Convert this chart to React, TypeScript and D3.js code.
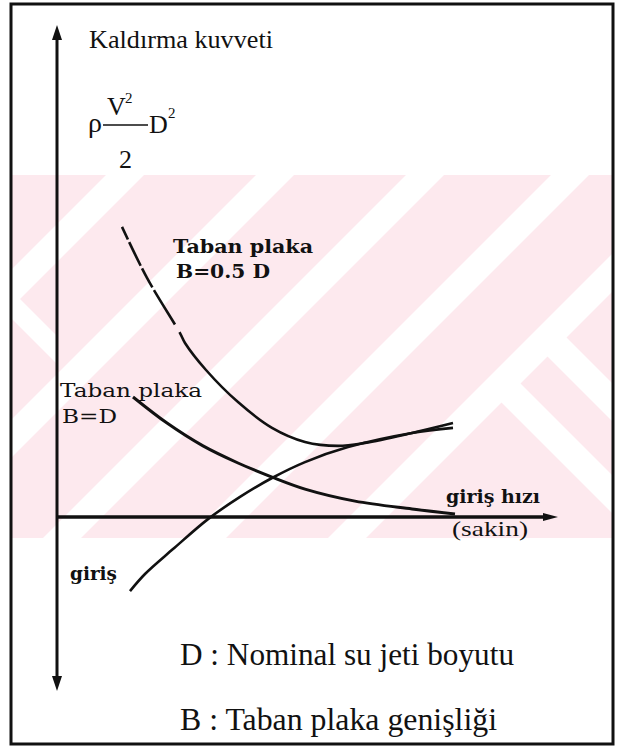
import React from "react";
import * as d3 from "d3";

// Abstract axes: inlet speed (x) vs. lift force (y); 0 on y is the speed axis.
const speedDomain: [number, number] = [0, 100];
const forceDomain: [number, number] = [-60, 100];

// Base plate B = 0.5 D (dashed near the top, then solid)
const halfPlateSpeed = [13, 18, 24.6, 25.6, 29.8, 36.2, 43, 49.6, 56.2, 61.6, 71, 79.2];
const halfPlateForce = [96.7, 79.7, 61.3, 58, 49, 38.3, 29.7, 25, 23.7, 24.7, 28, 31.3];

// Base plate B = D
const fullPlateSpeed = [15.2, 22, 29.2, 36.2, 43, 49.6, 59.6, 71, 79.6];
const fullPlateForce = [40, 31.3, 23.7, 18, 13.3, 9.3, 5.3, 2.7, 1];

// Inlet curve (starts below the speed axis)
const inletSpeed = [14.6, 17.6, 23.2, 30.2, 36.6, 43, 49.6, 58.2, 71, 79.2];
const inletForce = [-24.7, -19, -10.7, -0.7, 6.7, 13, 18.3, 23.3, 28, 29.7];

// Watermark bands: "/" stripes (x + y = c) and "\" stripes (x - y = c)
const slashBands = [300, 450, 600, 745, 885];
const backBands = [118, 210];

const toPoints = (xs: number[], ys: number[]) => xs.map((x, i) => [x, ys[i]] as [number, number]);

export default function App() {
  const W = 617;
  const H = 751;
  const x0 = 57;
  const xAxisY = 517;
  const x = d3.scaleLinear().domain(speedDomain).range([57, 557]);
  const y = d3.scaleLinear().domain(forceDomain).range([697, 217]);

  const line = d3
    .line<[number, number]>()
    .x((d) => x(d[0]))
    .y((d) => y(d[1]))
    .curve(d3.curveCatmullRom.alpha(0.5));

  const halfPath = line(toPoints(halfPlateSpeed, halfPlateForce)) || "";
  const fullPath = line(toPoints(fullPlateSpeed, fullPlateForce)) || "";
  const inletPath = line(toPoints(inletSpeed, inletForce)) || "";

  const wmTop = 175;
  const wmBot = 538;
  const half = 19;
  const slashPolys = slashBands.map((c) => {
    const a = c - half;
    const b = c + half;
    return [
      [a - 100, 100],
      [b - 100, 100],
      [b - 700, 700],
      [a - 700, 700],
    ];
  });
  const backPolys = backBands.map((c) => {
    const a = c - half;
    const b = c + half;
    const k = 885;
    return [
      [(k + a) / 2, (k - a) / 2],
      [(k + b) / 2, (k - b) / 2],
      [b + 700, 700],
      [a + 700, 700],
    ];
  });
  // short "\" band in the strip left of the vertical axis
  const leftBand = [
    [11, 290],
    [11, 318],
    [57, 364],
    [57, 336],
  ];

  const serif = "Liberation Serif, serif";
  const wide = "DejaVu Serif, serif";

  return (
    <svg width={W} height={H} viewBox={`0 0 ${W} ${H}`} style={{ position: "absolute", left: 0, top: 0, background: "#fff" }}>
      <defs>
        <clipPath id="wm">
          <rect x={11} y={wmTop} width={602} height={wmBot - wmTop} />
        </clipPath>
      </defs>

      {/* watermark */}
      <g clipPath="url(#wm)">
        <rect x={11} y={wmTop} width={602} height={wmBot - wmTop} fill="#fde9ee" />
        {slashPolys.map((p, i) => (
          <polygon key={`s${i}`} points={p.map((q) => q.join(",")).join(" ")} fill="#fff" />
        ))}
        {backPolys.map((p, i) => (
          <polygon key={`b${i}`} points={p.map((q) => q.join(",")).join(" ")} fill="#fff" />
        ))}
        <polygon points={leftBand.map((q) => q.join(",")).join(" ")} fill="#fff" />
      </g>

      {/* frame */}
      <rect x={11} y={4} width={602} height={740} fill="none" stroke="#111" strokeWidth={3} />

      {/* vertical axis, double-headed */}
      <line x1={x0} y1={36} x2={x0} y2={680} stroke="#111" strokeWidth={3} />
      <polygon points={`${x0},25 ${x0 - 5},40 ${x0 + 5},40`} fill="#111" />
      <polygon points={`${x0},691 ${x0 - 5},676 ${x0 + 5},676`} fill="#111" />

      {/* speed axis */}
      <line x1={x0} y1={xAxisY} x2={546} y2={xAxisY} stroke="#111" strokeWidth={3.5} />
      <polygon points={`558,${xAxisY} 543,${xAxisY - 4} 543,${xAxisY + 4}`} fill="#111" />

      {/* curves */}
      <path d={halfPath} fill="none" stroke="#111" strokeWidth={2.6} strokeDasharray="14 3 26 3 22 3 40 9 2000" />
      <path d={fullPath} fill="none" stroke="#111" strokeWidth={3} />
      <path d={inletPath} fill="none" stroke="#111" strokeWidth={2.6} />

      {/* axis title and scale expression */}
      <text x={89} y={48} style={{ fontFamily: serif }} fontSize={26} textLength={184} lengthAdjust="spacingAndGlyphs" fill="#111">
        Kaldırma kuvveti
      </text>
      <g style={{ fontFamily: serif }} fill="#111">
        <text x={88} y={132} fontSize={28}>ρ</text>
        <line x1={103} y1={125} x2={148} y2={125} stroke="#111" strokeWidth={1.5} />
        <text x={107} y={115} fontSize={26}>V</text>
        <text x={125} y={103} fontSize={15}>2</text>
        <text x={119} y={168} fontSize={26}>2</text>
        <text x={149} y={133} fontSize={26}>D</text>
        <text x={168} y={118} fontSize={15}>2</text>
      </g>

      {/* curve labels */}
      <g style={{ fontFamily: wide }} fontWeight="bold" fill="#111">
        <text x={173} y={253} fontSize={19} textLength={140} lengthAdjust="spacingAndGlyphs">Taban plaka</text>
        <text x={176} y={278} fontSize={19} textLength={94} lengthAdjust="spacingAndGlyphs">B=0.5 D</text>
      </g>
      <g style={{ fontFamily: wide }} fill="#111">
        <text x={60} y={397} fontSize={19} textLength={142} lengthAdjust="spacingAndGlyphs">Taban plaka</text>
        <text x={62} y={423} fontSize={19} textLength={55} lengthAdjust="spacingAndGlyphs">B=D</text>
      </g>
      <text x={446} y={503} style={{ fontFamily: wide }} fontWeight="bold" fontSize={18} textLength={94} lengthAdjust="spacingAndGlyphs" fill="#111">
        giriş hızı
      </text>
      <text x={452} y={536} style={{ fontFamily: serif }} fontSize={22} textLength={76} lengthAdjust="spacingAndGlyphs" fill="#111">
        (sakin)
      </text>
      <text x={70} y={580} style={{ fontFamily: wide }} fontWeight="bold" fontSize={18} textLength={47} lengthAdjust="spacingAndGlyphs" fill="#111">
        giriş
      </text>

      {/* notation */}
      <text x={180} y={665} style={{ fontFamily: serif }} fontSize={32} textLength={334} lengthAdjust="spacingAndGlyphs" fill="#111">
        D : Nominal su jeti boyutu
      </text>
      <text x={180} y={730} style={{ fontFamily: serif }} fontSize={32} textLength={317} lengthAdjust="spacingAndGlyphs" fill="#111">
        B : Taban plaka genişliği
      </text>
    </svg>
  );
}
